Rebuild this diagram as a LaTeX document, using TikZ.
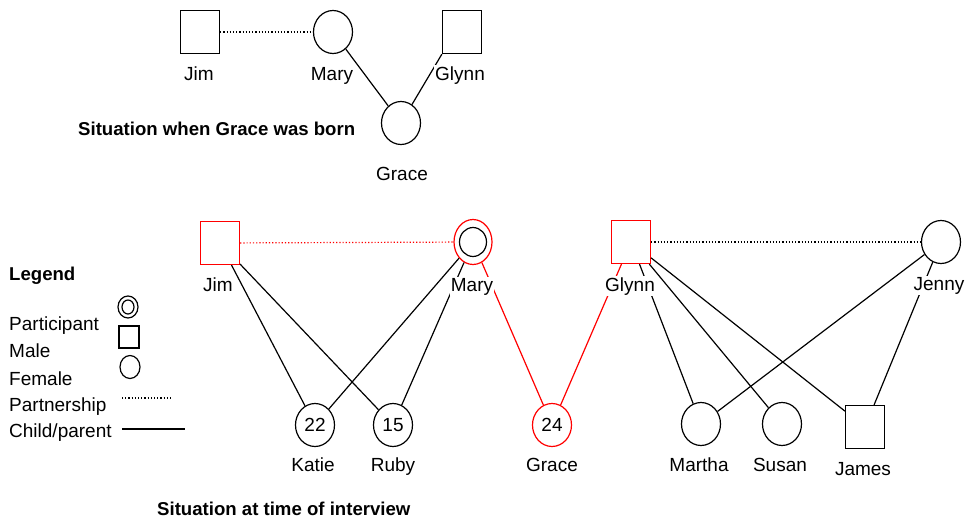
\documentclass[tikz,border=0pt]{standalone}
\usepackage{fontspec}
\setmainfont{Liberation Sans}
\usetikzlibrary{shapes.geometric}
\begin{document}
\begin{tikzpicture}[x=1pt,y=-1pt,
  male/.style={draw,rectangle,minimum width=39pt,minimum height=43pt,inner sep=0pt,line width=1.2pt},
  female/.style={draw,ellipse,minimum width=39pt,minimum height=43pt,inner sep=0pt,line width=1.2pt,font=\fontsize{19}{22}\selectfont},
  link/.style={draw,line width=1.2pt},
  partner/.style={draw,line width=1.2pt,dash pattern=on 1.2pt off 2pt},
  lbl/.style={anchor=base,fill=white,inner sep=1pt,font=\fontsize{19}{22}\selectfont},
  ltxt/.style={anchor=base west,inner sep=0pt,font=\fontsize{19}{22}\selectfont},
  ttl/.style={anchor=base west,inner sep=0pt,font=\bfseries\fontsize{18.6}{22}\selectfont},
]
\useasboundingbox (0,0) rectangle (967,522);

% ---------- top: situation when Grace was born
\node[male] (jimA) at (200,32) {};
\node[female] (maryA) at (333,32) {};
\node[male] (glynnA) at (462,32) {};
\node[female] (graceA) at (401,123) {};
\draw[partner] (jimA) -- (maryA);
\draw[link] (maryA) -- (graceA);
\draw[link] (glynnA.south west) -- (graceA);
\node[lbl] (jimAl) at (199,80) {Jim};
\node[lbl] (maryAl) at (332,80) {Mary};
\node[lbl] (glynnAl) at (460,80) {Glynn};
\node[lbl] (graceAl) at (402,180) {Grace};
\node[ttl] (titleA) at (78,135) {Situation when Grace was born};

% ---------- bottom: situation at time of interview
\node[male,red] (jimB) at (220,243) {};
\node[female,red,minimum width=38pt,minimum height=45pt] (maryB) at (473,242) {};
\node[female,minimum width=27pt,minimum height=29pt] (maryBin) at (473,242) {};
\node[male,red] (glynnB) at (631,242) {};
\node[female] (jennyB) at (941,242) {};
\node[female] (katie) at (315,425) {22};
\node[female] (ruby) at (393,425) {15};
\node[female,draw=red] (graceB) at (552,425) {24};
\node[female] (martha) at (701,424) {};
\node[female] (susan) at (782,424) {};
\node[male] (james) at (865,427) {};

\draw[partner,red] (jimB) -- (maryB);
\draw[partner] (glynnB) -- (jennyB);
\draw[link] (jimB) -- (katie);
\draw[link] (jimB) -- (ruby);
\draw[link] (maryB) -- (katie);
\draw[link] (maryB) -- (ruby);
\draw[link,red] (maryB) -- (graceB);
\draw[link,red] (glynnB) -- (graceB);
\draw[link] (glynnB) -- (martha);
\draw[link] (glynnB) -- (susan);
\draw[link] (glynnB) -- (james);
\draw[link] (jennyB) -- (martha);
\draw[link] (jennyB) -- (james);

\node[lbl] (jimBl) at (218,291) {Jim};
\node[lbl] (maryBl) at (472,291) {Mary};
\node[lbl] (glynnBl) at (630,291) {Glynn};
\node[lbl] (jennyBl) at (939,290) {Jenny};
\node[lbl] (katiel) at (313,471) {Katie};
\node[lbl] (rubyl) at (393,471) {Ruby};
\node[lbl] (graceBl) at (552,471) {Grace};
\node[lbl] (marthal) at (699,471) {Martha};
\node[lbl] (susanl) at (780,471) {Susan};
\node[lbl] (jamesl) at (863,475) {James};
\node[ttl] (titleB) at (157,515) {Situation at time of interview};

% ---------- legend
\node[ttl] (legend) at (9,280) {Legend};
\node[ltxt] (lpart) at (9,330) {Participant};
\node[ltxt] (lmale) at (9,357) {Male};
\node[ltxt] (lfem) at (9,385) {Female};
\node[ltxt] (lpartner) at (9,411) {Partnership};
\node[ltxt] (lchild) at (9,437) {Child/parent};
\node[female,minimum width=20pt,minimum height=22pt] (spart) at (128,307) {};
\node[female,minimum width=12pt,minimum height=14pt] (spartin) at (128,307) {};
\node[male,minimum width=20pt,minimum height=22pt] (smale) at (129,337) {};
\node[female,minimum width=20pt,minimum height=23pt] (sfem) at (130,367) {};
\coordinate (pa) at (122,398);
\coordinate (pb) at (173,398);
\coordinate (ca) at (122,429);
\coordinate (cb) at (185,429);
\draw[partner] (pa) -- (pb);
\draw[link] (ca) -- (cb);
\end{tikzpicture}
\end{document}
